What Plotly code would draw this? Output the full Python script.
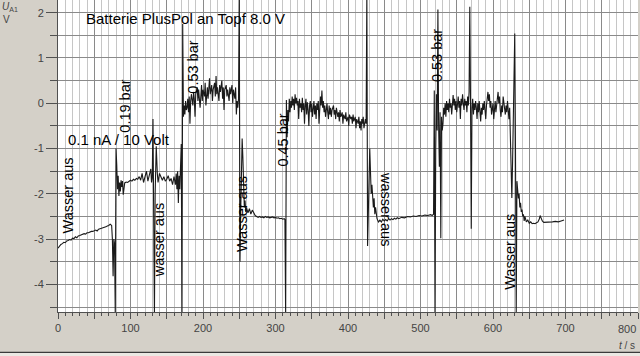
import plotly.graph_objects as go

# ---------------- data ----------------
# segment 1: baseline before first water pulse
t_a = [0, 2, 4, 6, 8, 10, 12, 14, 16, 18, 20, 22, 24, 26, 28, 30, 32, 34, 36, 38,
       40, 42, 44, 46, 48, 50, 52, 54, 56, 58, 60, 62, 64, 66, 68, 70, 72, 74, 75, 76,
       77, 78, 79]
u_a = [-3.20, -3.15, -3.12, -3.10, -3.07, -3.08, -3.04, -3.03, -3.01, -3.02, -2.98, -2.99,
       -2.95, -2.97, -2.93, -2.92, -2.91, -2.90, -2.88, -2.89, -2.86, -2.86, -2.84, -2.83,
       -2.83, -2.81, -2.80, -2.82, -2.78, -2.77, -2.76, -2.76, -2.74, -2.73, -2.71, -2.70,
       -2.67, -2.70, -3.00, -3.82, -3.00, -3.10, -4.70]

# segment 2: 0.19 bar
t_b = [80, 81, 82, 83, 84, 85, 86, 87, 88, 89, 90, 92, 94, 96, 98, 100, 102, 104, 106,
       108, 110, 112, 114, 116, 118, 120, 122, 124, 126, 128, 129, 130, 131, 132, 133,
       134, 135.5, 137, 138, 140, 142, 144, 146, 148, 150, 152, 154, 156, 158, 160, 162,
       163, 164, 165, 166, 167, 168, 169, 170, 171]
u_b = [-1.00, -1.35, -1.90, -1.60, -2.05, -1.75, -1.95, -1.70, -1.85, -1.72, -2.02, -1.76,
       -1.74, -1.75, -1.72, -1.70, -1.72, -1.68, -1.70, -1.66, -1.68, -1.62, -1.70, -1.55,
       -1.75, -1.60, -1.50, -1.72, -1.55, -1.45, -1.75, -1.65, -0.35, -2.00, -4.70, -2.00,
       -0.95, -1.55, -1.75, -1.55, -1.65, -1.70, -1.62, -1.72, -1.68, -1.60, -1.72, -1.66,
       -1.80, -1.62, -1.80, -1.55, -1.90, -1.50, -2.20, -1.60, -1.90, -1.40, -0.90, -4.70]

# segment 3: 0.53 bar
t_c = [172, 173, 174, 175, 176, 177, 178, 179, 180, 181, 182, 183, 184, 186, 187, 188, 189,
       190, 192, 193, 194, 196, 197, 198, 199, 200, 202, 203, 204, 206, 207, 208, 209, 210,
       212, 213, 214, 216, 217, 218, 219, 220, 222, 223, 224, 226, 227, 228, 229, 230, 232,
       233, 234, 236, 237, 238, 240, 241, 242, 244, 245, 246, 247, 248, 249]
u_c = [1.75, -0.30, -0.05, -0.25, 0.05, -0.15, -0.10, 0.10, -0.20, 0.15, -0.45, 0.05, 0.20,
       -0.05, 0.25, 0.10, -0.30, 0.20, 0.35, 0.05, 0.30, -0.10, 0.20, 0.40, 0.05, 0.30, 0.15,
       0.45, -0.05, 0.35, 0.10, 0.30, 0.55, 0.20, 0.40, 0.05, 0.30, 0.45, 0.15, 0.60, 0.20,
       0.35, 0.05, 0.40, 0.25, 0.50, 0.10, 0.35, -0.15, 0.30, 0.40, 0.15, 0.30, 0.05, 0.35,
       0.20, 0.40, 0.00, 0.30, 0.10, 0.35, -0.25, 0.05, -0.10, 0.10]

# segment 4: water off
t_d = [250, 251, 252, 253, 254, 255, 256, 257, 258, 259, 260, 262, 264, 266, 268, 270, 272,
       274, 276, 278, 280, 282, 284, 286, 288, 290, 292, 294, 296, 298, 300, 302, 304, 306,
       308, 310, 312, 313, 314]
u_d = [2.50, -3.50, -2.40, -1.50, -0.78, -1.20, -1.60, -2.30, -2.15, -2.40, -2.30, -2.42,
       -2.33, -2.45, -2.36, -2.42, -2.48, -2.50, -2.52, -2.50, -2.52, -2.51, -2.53, -2.50,
       -2.52, -2.51, -2.53, -2.52, -2.51, -2.53, -2.52, -2.54, -2.53, -2.55, -2.54, -2.56,
       -2.55, -2.57, -4.70]

# segment 5: 0.45 bar
t_e = [315, 316, 317, 318, 319, 320, 321, 322, 323, 324, 325, 326, 327, 328, 329, 330, 331,
       332, 333, 334, 335, 336, 337, 338, 339, 340, 341, 342, 343, 344, 345, 346, 347, 348,
       349, 350, 351, 352, 353, 354, 355, 356, 357, 358, 359, 360, 361, 362, 363, 364, 365,
       366, 367, 368, 369, 370, 371, 372, 373, 374, 375, 376, 377, 378, 380, 381, 382, 383,
       384, 386, 387, 388, 389, 390, 392, 393, 394, 396, 397, 398, 400, 401, 402, 404, 405,
       406, 407, 408, 410, 411, 412, 414, 415, 416, 417, 418, 419, 420, 421, 422, 423, 424,
       425]
u_e = [0.07, -0.75, -0.15, -0.40, 0.10, -0.20, 0.05, -0.10, 0.15, -0.05, 0.10, -0.15, 0.20,
       0.00, 0.12, -0.05, 0.05, -0.35, 0.10, -0.10, 0.00, -0.20, 0.12, -0.15, 0.00, -0.45,
       -0.05, 0.10, -0.25, 0.02, -0.15, -0.50, -0.05, 0.05, -0.20, 0.00, -0.30, -0.10, 0.05,
       -0.25, -0.05, -0.35, 0.00, -0.15, 0.05, -0.45, -0.10, 0.15, -0.05, 0.28, -0.10, 0.05,
       -0.20, -0.05, -0.30, -0.10, 0.00, -0.20, -0.35, -0.05, -0.25, -0.10, -0.30, -0.15,
       -0.05, -0.25, -0.15, -0.35, -0.10, -0.30, -0.20, -0.40, -0.15, -0.30, -0.20, -0.45,
       -0.25, -0.35, -0.20, -0.40, -0.30, -0.50, -0.25, -0.35, -0.30, -0.45, -0.25, -0.40,
       -0.30, -0.55, -0.35, -0.45, -0.30, -0.55, -0.40, -0.60, -0.35, -0.45, -0.30, -0.55,
       -0.40, -0.35, -0.45]

# segment 6: water off
t_f = [426, 427, 428, 429, 430, 431, 432, 433, 434, 435, 436, 437, 438, 440, 442, 444, 446,
       448, 450, 452, 454, 456, 458, 460, 462, 464, 466, 468, 470, 474, 478, 482, 486, 490,
       494, 498, 502, 506, 510, 514, 516, 518]
u_f = [2.50, -3.15, -2.20, -1.40, -1.00, -1.50, -2.00, -1.80, -2.20, -2.30, -2.10, -2.45,
       -2.30, -2.55, -2.62, -2.58, -2.62, -2.56, -2.60, -2.57, -2.60, -2.55, -2.58, -2.55,
       -2.57, -2.54, -2.56, -2.53, -2.55, -2.52, -2.53, -2.50, -2.51, -2.49, -2.50, -2.48,
       -2.49, -2.47, -2.48, -2.46, -2.48, -2.45]

# segment 7: 0.53 bar
t_g = [519, 520, 521, 522, 523, 524, 525, 526, 527, 528, 529, 530, 531, 532, 533, 534, 535,
       536, 537, 538, 539, 540, 541, 542, 543, 544, 545, 546, 547, 548, 549, 550, 551, 552,
       553, 554, 555, 556, 557, 558, 559, 560, 561, 562, 563, 564, 565, 566, 567, 568, 569,
       570, 571, 572, 573, 574, 575, 576, 577, 578, 579, 580, 581, 582, 583, 584, 585, 586,
       587, 588, 589, 590, 591, 592, 593, 594, 595, 596, 597, 598, 599, 600, 601, 602, 603,
       604, 605, 606, 607, 608, 609, 610, 611, 612, 613, 614, 615, 616, 617, 618, 619, 620,
       621, 622, 623, 624, 625, 626, 627, 628, 629, 630, 631]
u_g = [0.28, -4.70, -1.00, 0.20, -0.60, 2.07, -0.50, -1.40, -0.20, -2.98, -0.30, -0.60,
       -0.45, -0.10, -0.25, 0.00, -0.30, 0.05, -0.15, 0.00, -0.20, 0.10, -0.10, 0.00, -0.25,
       0.05, 0.18, -0.05, 0.10, -0.15, 0.05, -0.20, 0.00, 0.15, -0.10, 0.05, -0.35, 0.10,
       -0.05, 0.20, 0.00, -0.15, 0.10, -0.05, 0.05, -0.20, 0.15, -0.05, 0.25, 2.13, 0.00,
       -2.77, -0.10, 0.10, -0.25, 0.00, -0.15, 0.05, -0.10, -0.35, 0.00, -0.20, 0.05, -0.15,
       -0.40, -0.10, -0.25, 0.00, -0.15, 0.05, -0.20, -0.35, -0.05, 0.10, 0.25, 0.05, 0.20,
       -0.10, 0.05, -0.25, -0.10, 0.00, -0.35, -0.15, 0.05, -0.20, -0.05, 0.20, 0.25, 0.00,
       0.15, -0.15, -0.30, -0.05, -0.20, 0.15, 0.00, -0.10, -0.25, -0.05, -0.20, 0.05, -0.15,
       -0.35, -0.10, -0.60, -1.20, -2.09, -1.30, -0.50, 0.10, 1.54, -1.00]

# segment 8: water off
t_h = [632, 633, 634, 635, 636, 637, 638, 639, 640, 641, 642, 643, 644, 646, 648, 650, 652,
       654, 656, 658, 660, 662, 664, 665, 666, 667, 668, 670, 674, 678, 682, 686, 690, 694,
       698]
u_h = [-4.70, -1.72, -1.90, -2.10, -2.00, -2.30, -2.20, -2.40, -2.35, -2.50, -2.45, -2.60,
       -2.50, -2.62, -2.58, -2.65, -2.62, -2.66, -2.65, -2.66, -2.64, -2.62, -2.55, -2.48,
       -2.52, -2.58, -2.60, -2.63, -2.63, -2.62, -2.62, -2.61, -2.62, -2.60, -2.58]

x_label_vals = [0, 100, 200, 300, 400, 500, 600, 700]
x_label_text = ["0", "100", "200", "300", "400", "500", "600", "700"]
y_tick_vals = [-4, -3, -2, -1, 0, 1, 2]
y_tick_text = ["-4", "-3", "-2", "-1", "0", "1", "2"]

# annotations: (text, t, U, angle)
notes = [
    ("Wasser aus", 14.2, -2.03, -90),
    ("0.19 bar", 92.0, -0.06, -90),
    ("0.53 bar", 186.5, 0.79, -90),
    ("wasser aus", 140.3, -3.03, -90),
    ("Wasser aus", 253.6, -2.45, -90),
    ("0.45 bar", 310.6, -0.82, -90),
    ("wasser aus", 452.6, -2.34, 90),
    ("0.53 bar", 521.9, 1.05, -90),
    ("Wasser aus", 623.5, -3.28, -90),
]

# ---------------- figure ----------------
t_all = t_a + t_b + t_c + t_d + t_e + t_f + t_g + t_h
u_all = u_a + u_b + u_c + u_d + u_e + u_f + u_g + u_h

FONT = "Liberation Sans, Arial, sans-serif"
AX = "#505050"
fig = go.Figure()
# empty trace that only carries the second (50 s grid) x axis
fig.add_trace(go.Scatter(x=[], y=[], xaxis="x2", yaxis="y", showlegend=False,
                         hoverinfo="skip"))
fig.add_trace(go.Scatter(x=t_all, y=u_all, mode="lines",
                         line=dict(color="#1a1a1a", width=1.1), showlegend=False,
                         hoverinfo="skip"))

ann = []
ann.append(dict(text="Batterie PlusPol an Topf 8.0 V", x=36.3, y=1.88, xref="x", yref="y",
                xanchor="left", yanchor="middle", showarrow=False,
                font=dict(family=FONT, size=15, color="#000")))
ann.append(dict(text="0.1 nA / 10 Volt", x=11.4, y=-0.79, xref="x", yref="y",
                xanchor="left", yanchor="middle", showarrow=False,
                font=dict(family=FONT, size=15, color="#000")))
for txt, tx, uy, ang in notes:
    ann.append(dict(text=txt, x=tx, y=uy, xref="x", yref="y", textangle=ang,
                    xanchor="center", yanchor="middle", showarrow=False,
                    font=dict(family=FONT, size=14.5, color="#000")))
# 800 label kept inside the window
ann.append(dict(text="800", x=1.0, y=-0.053, xref="paper", yref="paper", xanchor="right",
                yanchor="middle", showarrow=False, font=dict(family=FONT, size=11, color="#444")))
# axis titles
ann.append(dict(text="<i>U</i><sub>A1</sub>", x=-0.083, y=0.978, xref="paper", yref="paper",
                xanchor="center", yanchor="middle", showarrow=False,
                font=dict(family=FONT, size=10, color="#444")))
ann.append(dict(text="V", x=-0.089, y=0.938, xref="paper", yref="paper",
                xanchor="center", yanchor="middle", showarrow=False,
                font=dict(family=FONT, size=10, color="#444")))
ann.append(dict(text="<i>t</i> / s", x=0.998, y=-0.107, xref="paper", yref="paper",
                xanchor="right", yanchor="middle", showarrow=False,
                font=dict(family=FONT, size=10, color="#444")))

shapes = [
    dict(type="rect", xref="paper", yref="paper", x0=-0.2, x1=1.1, y0=-0.1293, y1=-0.2,
         fillcolor="#ebe8e3", line=dict(width=0), layer="below"),
    dict(type="line", xref="paper", yref="paper", x0=-0.2, x1=1.1, y0=-0.1293, y1=-0.1293,
         line=dict(color="#3a3a3a", width=1.2)),
]

fig.update_layout(
    width=640, height=356,
    margin=dict(l=58, r=2, t=0, b=44),
    paper_bgcolor="#d4d0c8",
    plot_bgcolor="#ffffff",
    font=dict(family=FONT, size=11, color="#444"),
    annotations=ann,
    shapes=shapes,
    xaxis=dict(
        range=[0, 800], tickmode="array", tickvals=x_label_vals, ticktext=x_label_text,
        ticks="outside", ticklen=6, tickcolor=AX, tickwidth=1,
        showline=True, linecolor=AX, linewidth=1, mirror=False,
        showgrid=True, gridcolor="#8a8a8a", gridwidth=1, zeroline=False,
        tickfont=dict(family=FONT, size=11, color="#444"),
        minor=dict(tickmode="linear", tick0=0, dtick=10, ticks="outside", ticklen=3,
                   tickcolor=AX, showgrid=True, gridcolor="#c6c6c6", gridwidth=1),
    ),
    xaxis2=dict(
        range=[0, 800], overlaying="x", anchor="y", side="bottom",
        tickmode="linear", tick0=0, dtick=50, showticklabels=False,
        ticks="outside", ticklen=6, tickcolor=AX, tickwidth=1,
        showline=False, showgrid=True, gridcolor="#8a8a8a", gridwidth=1, zeroline=False,
    ),
    yaxis=dict(
        range=[-4.61, 2.28], tickmode="array", tickvals=y_tick_vals, ticktext=y_tick_text,
        ticks="outside", ticklen=11, tickcolor=AX, tickwidth=1,
        showline=True, linecolor=AX, linewidth=1,
        showgrid=True, gridcolor="#8a8a8a", gridwidth=1, zeroline=False,
        tickfont=dict(family=FONT, size=11, color="#444"),
        minor=dict(tickmode="linear", tick0=0, dtick=0.5, ticks="outside", ticklen=7,
                   tickcolor=AX, showgrid=True, gridcolor="#8a8a8a", gridwidth=1),
    ),
)

fig.write_html("out.html", config={"displayModeBar": False},
               post_script="document.body.style.margin='0';document.body.style.overflow='hidden';")
